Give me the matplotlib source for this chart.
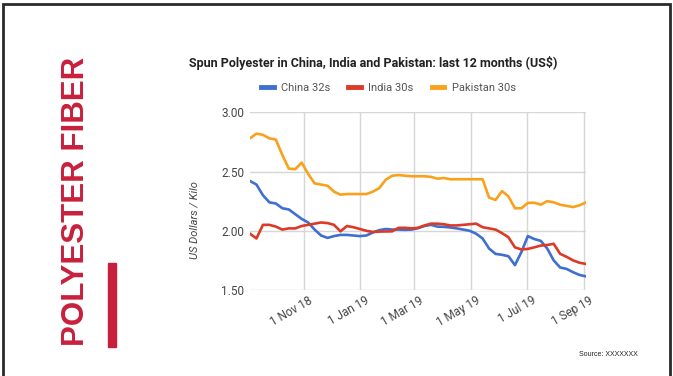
"""Spun polyester yarn prices, China / India / Pakistan, weekly over 12 months."""
import matplotlib
matplotlib.use("Agg")
import matplotlib.pyplot as plt
import matplotlib.transforms as mtransforms
from matplotlib.lines import Line2D
from matplotlib.patches import Rectangle
import pandas as pd

plt.rcParams["font.family"] = ["Roboto", "DejaVu Sans"]

# weekly price points, US$ per kilo
WEEKS = pd.date_range("2018-09-04", periods=53, freq="7D")

CHINA_32S = [
  2.42, 2.39, 2.30, 2.24, 2.23, 2.19, 2.18, 2.14, 2.10, 2.07,
  2.01, 1.96, 1.94, 1.955, 1.965, 1.965, 1.96, 1.955, 1.96, 1.985,
  2.005, 2.015, 2.01, 2.01, 2.008, 2.01, 2.022, 2.04, 2.05, 2.035,
  2.033, 2.028, 2.02, 2.01, 2.00, 1.975, 1.935, 1.85, 1.805, 1.797,
  1.785, 1.71, 1.82, 1.955, 1.93, 1.915, 1.85, 1.75, 1.69, 1.678,
  1.65, 1.627, 1.615,
]
INDIA_30S = [
  1.975, 1.935, 2.05, 2.05, 2.035, 2.01, 2.02, 2.02, 2.04, 2.05,
  2.06, 2.07, 2.065, 2.05, 1.995, 2.04, 2.03, 2.015, 2.00, 1.99,
  1.993, 1.994, 1.995, 2.025, 2.025, 2.02, 2.025, 2.045, 2.06, 2.06,
  2.055, 2.045, 2.045, 2.05, 2.055, 2.06, 2.03, 2.02, 2.01, 1.98,
  1.945, 1.86, 1.842, 1.847, 1.86, 1.875, 1.88, 1.89, 1.805, 1.78,
  1.75, 1.73, 1.72,
]
PAKISTAN_30S = [
  2.78, 2.82, 2.81, 2.78, 2.77, 2.64, 2.525, 2.52, 2.575, 2.48,
  2.40, 2.39, 2.38, 2.33, 2.305, 2.31, 2.31, 2.31, 2.31, 2.33,
  2.36, 2.43, 2.465, 2.47, 2.465, 2.46, 2.46, 2.46, 2.455, 2.44,
  2.445, 2.435, 2.435, 2.435, 2.435, 2.435, 2.435, 2.28, 2.26, 2.335,
  2.29, 2.19, 2.19, 2.235, 2.237, 2.22, 2.25, 2.24, 2.22, 2.21,
  2.20, 2.215, 2.24,
]

SERIES_NAMES = ["China 32s", "India 30s", "Pakistan 30s"]
SERIES_COLORS = ["#3f6fd0", "#dc3a26", "#f9a11b"]

TICK_DATES = pd.to_datetime(
  ["2018-11-01", "2019-01-01", "2019-03-01", "2019-05-01", "2019-07-01", "2019-09-01"])
TICK_LABELS = ["1 Nov 18", "1 Jan 19", "1 Mar 19", "1 May 19", "1 Jul 19", "1 Sep 19"]
Y_TICKS = [1.50, 2.00, 2.50, 3.00]

BRAND_RED = "#c8203c"
TEXT_GRAY = "#444444"
GRID_GRAY = "#d6d6d6"

W, H = 673, 376
fig = plt.figure(figsize=(W / 100, H / 100), dpi=100)
fig.patch.set_facecolor("white")

# slide frame (bottom edge runs off the page)
fig.patches.append(Rectangle((3 / W, -0.05), 667 / W, 1.05 - 4 / H,
                             transform=fig.transFigure, fill=False,
                             edgecolor="#2a2a2a", linewidth=2))

# vertical section heading and accent bar
fig.text(76.5 / W, 1 - 201 / H, "POLYESTER FIBER", rotation=90,
         ha="center", va="center", color=BRAND_RED, fontsize=22.5,
         fontweight="bold", family=["Liberation Sans", "DejaVu Sans"])
fig.patches.append(Rectangle((108 / W, 1 - 347 / H), 8 / W, 84 / H,
                             transform=fig.transFigure, color=BRAND_RED))

ax = fig.add_axes([250 / W, 1 - 290 / H, 336 / W, 177.7 / H])
series = [CHINA_32S, INDIA_30S, PAKISTAN_30S]
for name, vals, col in zip(SERIES_NAMES, series, SERIES_COLORS):
  ax.plot(WEEKS, vals, color=col, linewidth=1.9, solid_joinstyle="round",
          label=name, zorder=3)

ax.set_xlim(WEEKS[0], WEEKS[-1])
ax.set_ylim(1.5, 3.0)
ax.set_yticks(Y_TICKS)
ax.set_yticklabels([f"{v:.2f}" for v in Y_TICKS])
ax.set_xticks(TICK_DATES)
ax.set_xticklabels(TICK_LABELS)
ax.grid(True, color=GRID_GRAY, linewidth=1)
ax.set_axisbelow(True)
for s in ax.spines.values():
  s.set_visible(False)
ax.tick_params(axis="both", length=0, colors=TEXT_GRAY, labelsize=8.5)
ax.tick_params(axis="y", pad=4)
ax.tick_params(axis="x", pad=7)

shift = mtransforms.ScaledTranslation(8 / 100, 0, fig.dpi_scale_trans)
for lab in ax.get_xticklabels():
  lab.set_rotation(30)
  lab.set_ha("right")
  lab.set_va("center")
  lab.set_rotation_mode("anchor")
  lab.set_transform(lab.get_transform() + shift)

ax.set_ylabel("US Dollars / Kilo", fontsize=8, style="italic", color=TEXT_GRAY)
ax.yaxis.set_label_coords(-0.149, 0.394)

fig.text(373.5 / W, 1 - 63 / H,
         "Spun Polyester in China, India and Pakistan: last 12 months (US$)",
         ha="center", va="center", fontsize=9, fontweight="bold", color="#222222")

handles = [Line2D([], [], color=c, linewidth=3.5) for c in SERIES_COLORS]
fig.legend(handles, SERIES_NAMES, loc="center", bbox_to_anchor=(388.5 / W, 1 - 88 / H),
           ncol=3, frameon=False, fontsize=8, labelcolor="#555555",
           handlelength=1.1, handletextpad=0.7, columnspacing=1.6)

fig.text(608 / W, 1 - 354 / H, "Source: XXXXXXX", ha="center", va="center",
         fontsize=5, color="#222222", family=["Liberation Sans", "DejaVu Sans"])

fig.savefig("out.png", dpi=100)
